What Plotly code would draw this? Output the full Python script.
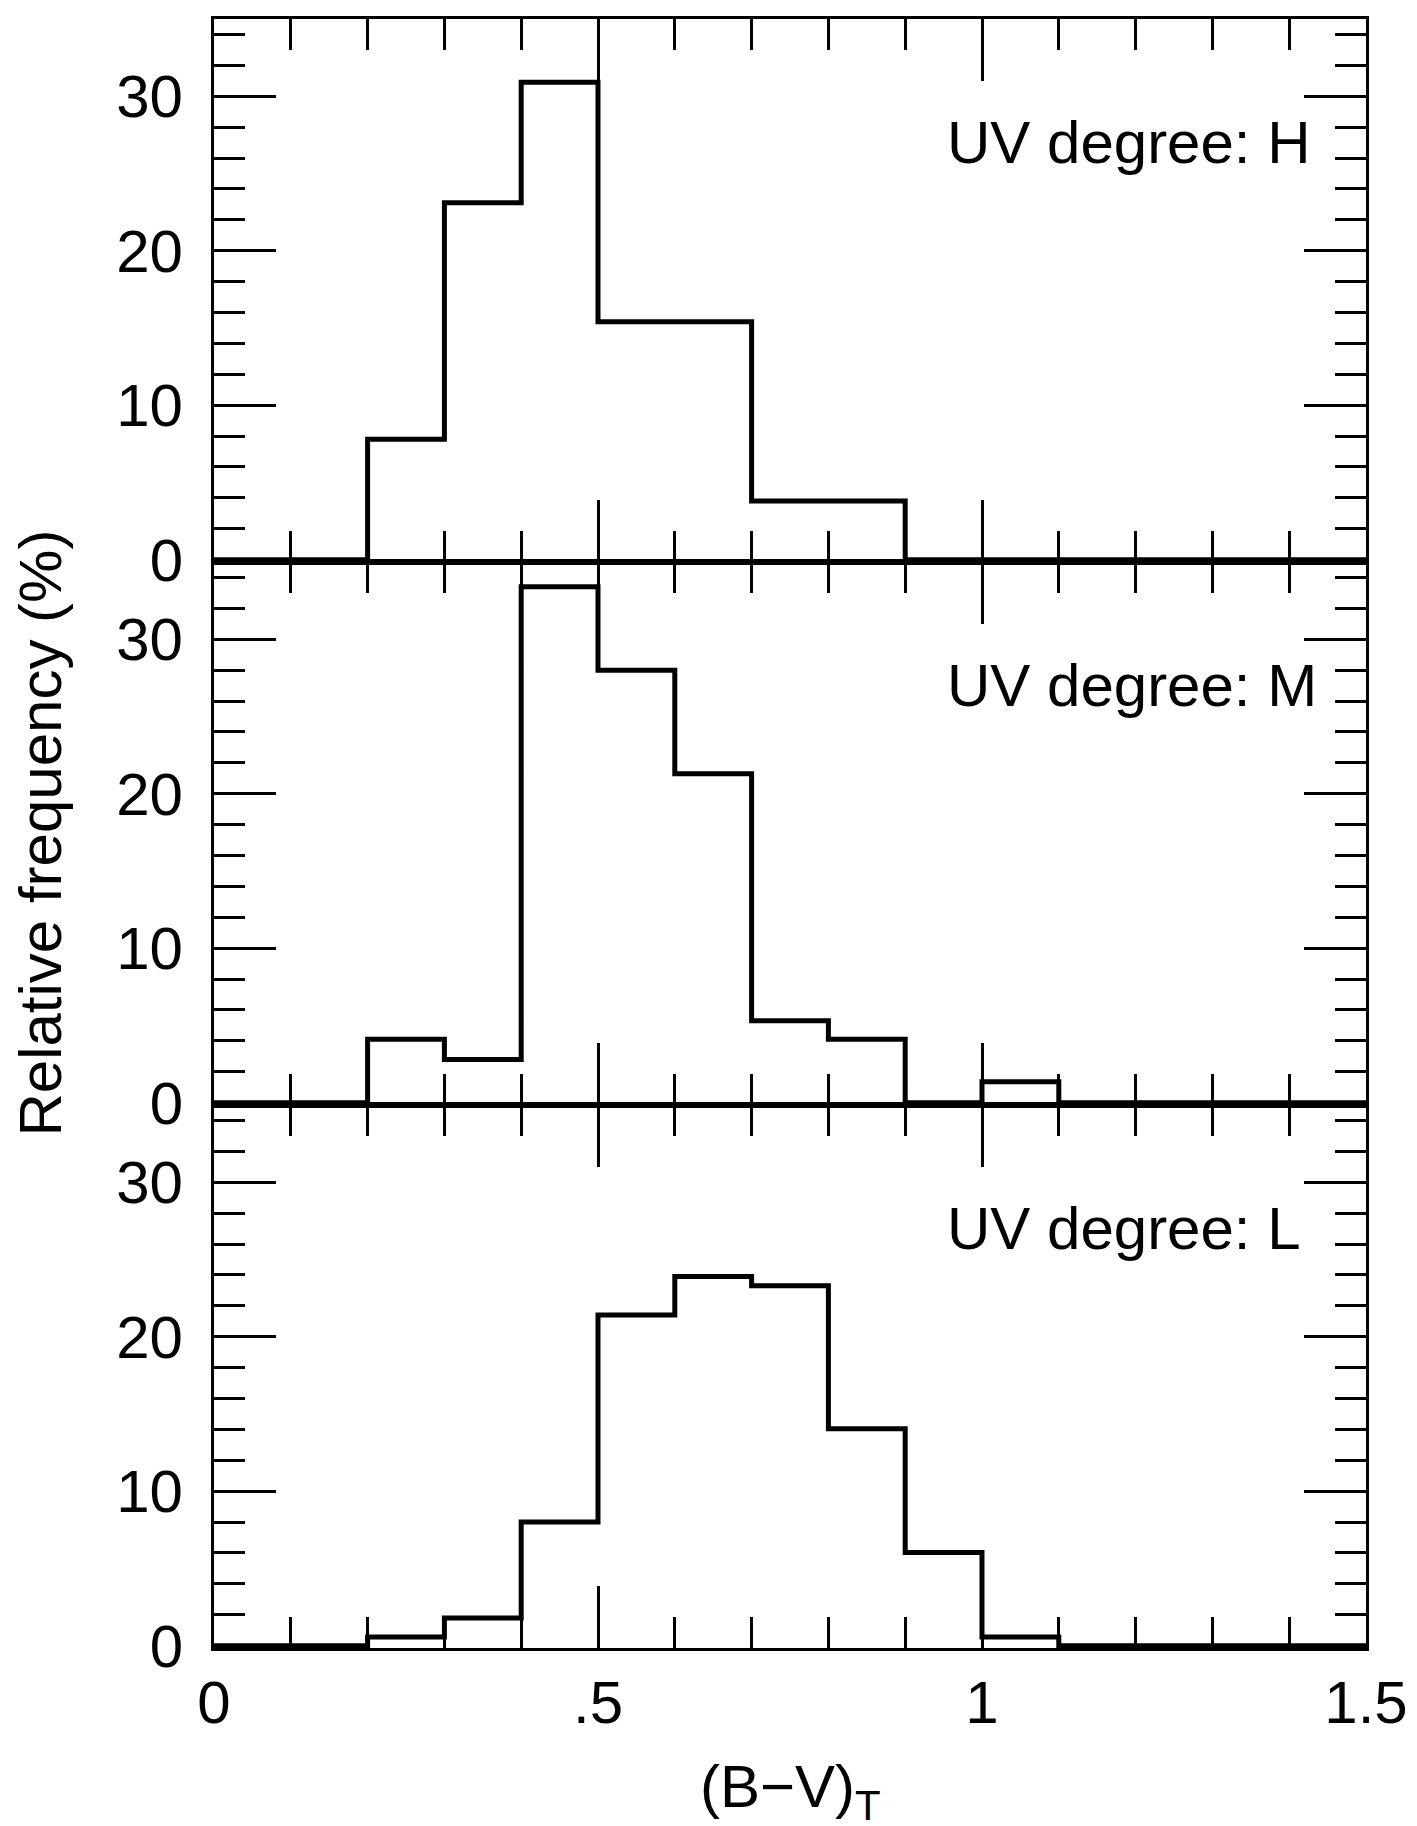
"""Colour distribution by UV degree: three stacked step histograms."""

import plotly.graph_objects as go
from plotly.subplots import make_subplots

# bin edges of (B-V)_T, width 0.1
BIN_EDGES = [0.0, 0.1, 0.2, 0.3, 0.4, 0.5, 0.6, 0.7, 0.8, 0.9, 1.0, 1.1, 1.2, 1.3, 1.4, 1.5]

# relative frequency (%) per bin
UV_H = [0, 0, 7.8, 23.1, 30.9, 15.4, 15.4, 3.8, 3.8, 0, 0, 0, 0, 0, 0]
UV_M = [0, 0, 4.1, 2.8, 33.4, 28.0, 21.3, 5.3, 4.1, 0, 1.36, 0, 0, 0, 0]
UV_L = [0, 0, 0.57, 1.8, 8.0, 21.4, 23.9, 23.3, 14.05, 6.04, 0.57, 0, 0, 0, 0]

PANELS = [("UV degree: H", UV_H), ("UV degree: M", UV_M), ("UV degree: L", UV_L)]

X_TICKS = [0, 0.5, 1, 1.5]
X_TICKTEXT = ["0", ".5", "1", "1.5"]
Y_TICKS = [0, 10, 20, 30]

FONT = "Liberation Sans, Arial, Helvetica, sans-serif"
INK = "black"

fig = make_subplots(rows=3, cols=1, shared_xaxes=True, vertical_spacing=0)

for i, (label, vals) in enumerate(PANELS, start=1):
    fig.add_trace(
        go.Scatter(
            x=BIN_EDGES,
            y=vals + [vals[-1]],
            mode="lines",
            line=dict(color=INK, width=5, shape="hv"),
            showlegend=False,
            hoverinfo="skip",
        ),
        row=i,
        col=1,
    )
    fig.add_annotation(
        text=label,
        x=0.952,
        y=27,
        xref=f"x{i if i > 1 else ''}",
        yref=f"y{i if i > 1 else ''}",
        xanchor="left",
        yanchor="middle",
        showarrow=False,
        font=dict(size=60, family=FONT, color=INK),
    )

axis_common = dict(
    showline=True,
    linecolor=INK,
    linewidth=3,
    mirror="allticks",
    ticks="inside",
    tickcolor=INK,
    tickwidth=3,
    ticklen=62,
    showgrid=False,
    zeroline=False,
    tickfont=dict(size=60, family=FONT, color=INK),
)

fig.update_xaxes(
    **axis_common,
    range=[0, 1.5],
    tickvals=X_TICKS,
    ticktext=X_TICKTEXT,
    ticklabelstandoff=0,
    minor=dict(dtick=0.1, tick0=0, ticklen=31, tickwidth=3, tickcolor=INK, ticks="inside", showgrid=False),
)
fig.update_xaxes(showticklabels=False, row=1, col=1)
fig.update_xaxes(showticklabels=False, row=2, col=1)

fig.update_yaxes(
    **axis_common,
    range=[-0.15, 35],
    tickvals=Y_TICKS,
    ticklabelstandoff=16,
    minor=dict(dtick=2, tick0=0, ticklen=31, tickwidth=3, tickcolor=INK, ticks="inside", showgrid=False),
)

fig.add_annotation(
    text="Relative frequency (%)",
    x=-0.151,
    y=0.5,
    xref="paper",
    yref="paper",
    textangle=-90,
    showarrow=False,
    xanchor="center",
    yanchor="middle",
    font=dict(size=60, family=FONT, color=INK),
)
fig.add_annotation(
    text="(B\u2212V)<sub>T</sub>",
    x=0.5,
    y=-0.088,
    xref="paper",
    yref="paper",
    showarrow=False,
    xanchor="center",
    yanchor="middle",
    font=dict(size=60, family=FONT, color=INK),
)

fig.update_layout(
    width=1417,
    height=1826,
    margin=dict(l=206, r=59, t=8, b=186),
    paper_bgcolor="white",
    plot_bgcolor="white",
    font=dict(family=FONT, color=INK),
)

fig.write_html("out.html")
